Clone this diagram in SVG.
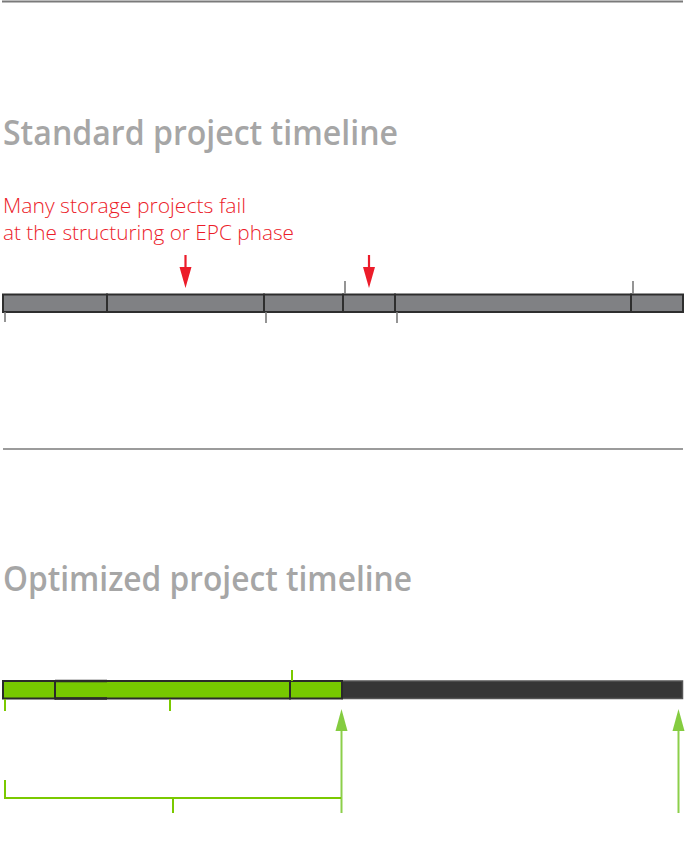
<svg xmlns="http://www.w3.org/2000/svg" width="685" height="845" viewBox="0 0 685 845">
<defs>
<style>
.title{font-family:"Open Sans","Noto Sans",sans-serif;font-weight:600;font-size:34px;fill:#a6a6a6}
.note{font-family:"Open Sans","Noto Sans",sans-serif;font-weight:300;font-size:20.5px;fill:#ec1c2a}
.rule{stroke:#7a7a7a;fill:none}
.seg{fill:#808184;stroke:#2e2e2e;stroke-width:2}
.gseg{fill:#77c800;stroke:#2a2a2a;stroke-width:2}
.dseg{fill:#363636;stroke:#555;stroke-width:1.5}
.tick{stroke:#7a7a7a;stroke-width:1.6;fill:none}
.gtick{stroke:#7ac900;stroke-width:2;fill:none}
.red{stroke:#ec1c2a;stroke-width:2.2;fill:none}
.redhead{fill:#ec1c2a}
.garrow{stroke:#8ccf4a;stroke-width:2;fill:none}
.ghead{fill:#84cc40}
</style>
</defs>
<rect width="685" height="845" fill="#ffffff"/>

<g id="rules">
<line class="rule" x1="2" y1="1.5" x2="683" y2="1.5" stroke-width="2"/>
<line class="rule" x1="3" y1="449" x2="683" y2="449" stroke-width="1.5" stroke="#8a8a8a"/>
</g>

<g id="standard-title">
<text class="title" x="3" y="145" textLength="395" lengthAdjust="spacingAndGlyphs">Standard project timeline</text>
</g>

<g id="standard-note">
<text class="note" x="3" y="213" textLength="243" lengthAdjust="spacingAndGlyphs">Many storage projects fail</text>
<text class="note" x="3" y="240" textLength="291" lengthAdjust="spacingAndGlyphs">at the structuring or EPC phase</text>
</g>

<g id="standard-bar">
<rect class="seg" x="3" y="294.5" width="104" height="17.5"/>
<rect class="seg" x="107" y="294.5" width="157" height="17.5"/>
<rect class="seg" x="264" y="294.5" width="79" height="17.5"/>
<rect class="seg" x="343" y="294.5" width="52" height="17.5"/>
<rect class="seg" x="395" y="294.5" width="236" height="17.5"/>
<rect class="seg" x="631" y="294.5" width="52" height="17.5"/>
</g>

<g id="standard-ticks">
<line class="tick" x1="5" y1="312" x2="5" y2="322"/>
<line class="tick" x1="266" y1="312" x2="266" y2="323"/>
<line class="tick" x1="397" y1="312" x2="397" y2="323"/>
<line class="tick" x1="345" y1="281" x2="345" y2="294"/>
<line class="tick" x1="633" y1="281" x2="633" y2="294"/>
</g>

<g id="optimized-title">
<text class="title" x="3" y="591" textLength="409" lengthAdjust="spacingAndGlyphs">Optimized project timeline</text>
</g>

<g id="optimized-bar">
<rect class="dseg" x="342" y="681" width="340.5" height="17.5"/>
<rect class="gseg" x="3" y="681" width="52" height="17.5"/>
<rect class="gseg" x="55" y="681" width="235" height="17.5"/>
<rect class="gseg" x="290" y="681" width="52" height="17.5"/>
<line x1="55" y1="681" x2="107" y2="681" stroke="#2a2a2a" stroke-width="2.5"/>
<line x1="55" y1="698.5" x2="107" y2="698.5" stroke="#2a2a2a" stroke-width="2.5"/>
</g>

<g id="optimized-ticks">
<line class="gtick" x1="5" y1="699" x2="5" y2="711"/>
<line class="gtick" x1="170" y1="699" x2="170" y2="711"/>
<line class="gtick" x1="292" y1="670" x2="292" y2="681"/>
</g>

<g id="connectors">
<line class="red" x1="185.5" y1="255" x2="185.5" y2="268"/>
<path class="redhead" d="M179.5,267 L191.5,267 L185.5,288 Z"/>
<line class="red" x1="369" y1="255" x2="369" y2="268"/>
<path class="redhead" d="M363,267 L375,267 L369,288 Z"/>
<line class="garrow" x1="341.5" y1="813" x2="341.5" y2="730"/>
<path class="ghead" d="M335.5,731 L341.5,709 L347.5,731 Z"/>
<line class="garrow" x1="678.5" y1="813" x2="678.5" y2="730"/>
<path class="ghead" d="M672.5,731 L678.5,709 L684.5,731 Z"/>
<path d="M5,780 L5,798 L341,798" stroke="#7ac900" stroke-width="2" fill="none"/>
<line class="gtick" x1="173" y1="798" x2="173" y2="813"/>
</g>
</svg>
